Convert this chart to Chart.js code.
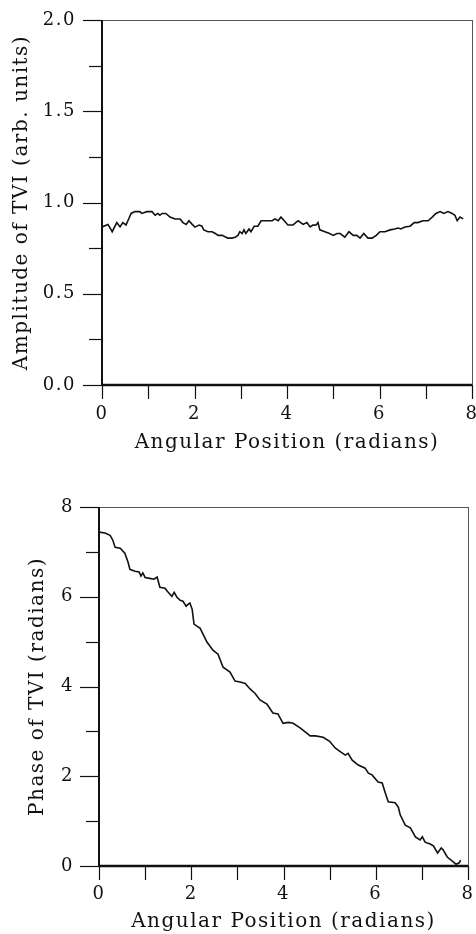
<!DOCTYPE html>
<html>
<head>
<meta charset="utf-8">
<script src="https://cdn.jsdelivr.net/npm/chart.js@4/dist/chart.umd.min.js"></script>
<style>
  html, body { margin: 0; padding: 0; background: #fff; }
  #wrap { position: relative; width: 476px; height: 934px; }
  canvas { position: absolute; left: 0; }
</style>
</head>
<body>
<div id="wrap">
  <canvas id="amp" width="476" height="460" style="top:0"></canvas>
  <canvas id="phase" width="476" height="474" style="top:460px"></canvas>
</div>
<script>
// amplitude of TVI vs angular position
const ampX = [0.00,0.13,0.22,0.32,0.39,0.45,0.52,0.56,0.63,0.71,0.82,0.86,0.97,1.08,1.15,1.21,1.25,1.30,1.38,1.47,
  1.58,1.69,1.75,1.82,1.88,1.95,2.01,2.10,2.16,2.20,2.29,2.38,2.45,2.51,2.60,2.68,2.72,2.81,2.88,2.94,
  2.98,3.03,3.07,3.11,3.18,3.22,3.29,3.37,3.44,3.52,3.68,3.74,3.81,3.87,3.94,4.02,4.13,4.24,4.35,4.43,
  4.50,4.56,4.63,4.67,4.71,4.82,4.92,5.00,5.08,5.15,5.25,5.34,5.43,5.51,5.58,5.66,5.75,5.84,5.93,6.01,
  6.12,6.23,6.33,6.40,6.46,6.55,6.66,6.75,6.83,6.94,7.05,7.14,7.22,7.31,7.39,7.48,7.57,7.63,7.68,7.74,7.81];
const ampY = [0.866,0.88,0.84,0.89,0.866,0.89,0.877,0.90,0.94,0.95,0.95,0.94,0.95,0.95,0.93,0.94,0.93,0.94,0.94,0.92,
  0.91,0.91,0.89,0.88,0.90,0.88,0.865,0.876,0.87,0.85,0.84,0.84,0.83,0.82,0.82,0.81,0.805,0.805,0.81,0.82,
  0.84,0.83,0.85,0.83,0.855,0.84,0.87,0.87,0.90,0.90,0.90,0.91,0.90,0.92,0.90,0.877,0.877,0.90,0.88,0.89,
  0.866,0.876,0.877,0.89,0.85,0.84,0.83,0.82,0.83,0.83,0.81,0.84,0.82,0.82,0.805,0.83,0.805,0.805,0.82,0.84,
  0.84,0.85,0.855,0.86,0.855,0.866,0.87,0.89,0.89,0.90,0.90,0.92,0.94,0.95,0.94,0.95,0.94,0.93,0.90,0.92,0.91];

// phase of TVI vs angular position
const phaseX = [0.00,0.13,0.24,0.30,0.35,0.46,0.56,0.63,0.67,0.78,0.87,0.91,0.95,1.00,1.10,1.19,1.26,1.32,1.43,1.50,
  1.58,1.63,1.69,1.76,1.82,1.89,1.93,1.97,2.02,2.06,2.13,2.19,2.34,2.47,2.58,2.69,2.84,2.95,3.06,3.17,
  3.28,3.38,3.49,3.64,3.77,3.88,3.99,4.10,4.21,4.36,4.58,4.69,4.86,5.00,5.12,5.23,5.34,5.40,5.49,5.62,
  5.77,5.84,5.92,6.05,6.14,6.20,6.27,6.42,6.49,6.53,6.64,6.75,6.86,6.96,7.01,7.07,7.18,7.25,7.34,7.42,
  7.46,7.55,7.68,7.74,7.81,7.84];
const phaseY = [7.44,7.42,7.37,7.26,7.10,7.08,6.97,6.77,6.61,6.57,6.55,6.46,6.53,6.43,6.41,6.39,6.44,6.21,6.19,6.10,
  6.01,6.10,5.99,5.92,5.90,5.79,5.83,5.86,5.72,5.39,5.34,5.30,4.99,4.81,4.72,4.43,4.32,4.12,4.10,4.07,
  3.94,3.85,3.70,3.61,3.41,3.39,3.18,3.20,3.18,3.08,2.90,2.90,2.87,2.78,2.63,2.55,2.47,2.51,2.36,2.25,
  2.18,2.07,2.03,1.87,1.85,1.65,1.43,1.41,1.31,1.14,0.91,0.85,0.65,0.58,0.65,0.53,0.49,0.45,0.29,0.40,
  0.36,0.20,0.09,0.04,0.07,0.13];

Chart.defaults.font.family = "'DejaVu Serif', 'Liberation Serif', serif";
Chart.defaults.font.size = 18;
Chart.defaults.color = '#111';

// old typeset plots have wide, spaced lettering
const spacing = {
  id: 'spacing',
  beforeDraw(chart) { chart.ctx.letterSpacing = '1.5px'; }
};

// box, axes and tick marks drawn like the old plot
const frame = {
  id: 'frame',
  afterDraw(chart, args, opts) {
    const {ctx, chartArea: a, scales: {x, y}} = chart;
    ctx.save();
    ctx.strokeStyle = '#555';
    ctx.lineWidth = 1;
    ctx.beginPath();
    ctx.moveTo(a.left, a.top + 0.5); ctx.lineTo(a.right, a.top + 0.5);
    ctx.moveTo(a.right + 0.5, a.top); ctx.lineTo(a.right + 0.5, a.bottom);
    ctx.stroke();
    ctx.strokeStyle = '#111';
    ctx.lineWidth = 1.2;
    y.ticks.forEach(t => {
      const py = Math.round(y.getPixelForValue(t.value)) + 0.5;
      const len = t.label !== '' ? opts.yMajor : opts.yMinor;
      ctx.beginPath(); ctx.moveTo(a.left - len, py); ctx.lineTo(a.left, py); ctx.stroke();
    });
    x.ticks.forEach(t => {
      const px = Math.round(x.getPixelForValue(t.value)) + 0.5;
      ctx.beginPath(); ctx.moveTo(px, a.bottom); ctx.lineTo(px, a.bottom + opts.xLen); ctx.stroke();
    });
    ctx.lineWidth = 2;
    ctx.beginPath();
    ctx.moveTo(a.left, a.top); ctx.lineTo(a.left, a.bottom);
    ctx.stroke();
    ctx.lineWidth = 2.5;
    ctx.beginPath();
    ctx.moveTo(a.left, a.bottom); ctx.lineTo(a.right, a.bottom);
    ctx.stroke();
    ctx.restore();
  }
};

function makeChart(id, xs, ys, o) {
  const pts = xs.map((v, i) => ({x: v, y: ys[i]}));
  return new Chart(document.getElementById(id), {
    type: 'line',
    data: {
      datasets: [{
        data: pts,
        borderColor: '#111',
        borderWidth: 1.6,
        pointRadius: 0,
        tension: 0,
        fill: false
      }]
    },
    plugins: [spacing, frame],
    options: {
      responsive: false,
      animation: false,
      layout: {padding: {top: o.top, right: o.right, left: 0, bottom: 0}},
      plugins: {
        legend: {display: false},
        tooltip: {enabled: false},
        frame: {yMajor: 19, yMinor: 13, xLen: 14}
      },
      scales: {
        x: {
          type: 'linear',
          min: 0, max: 8,
          grid: {display: false, drawTicks: false},
          border: {display: false},
          ticks: {
            stepSize: 1, autoSkip: false, maxRotation: 0, padding: o.xPad,
            callback: v => (v % 2 === 0 ? String(v) : '')
          },
          title: {display: true, text: 'Angular Position (radians)', font: {size: 20},
                  padding: {top: 0, bottom: o.xTitlePad}},
          afterFit: s => { s.height = o.xHeight; s.paddingLeft = 0; s.paddingRight = 0; }
        },
        y: {
          min: 0, max: o.yMax,
          grid: {display: false, drawTicks: false},
          border: {display: false},
          ticks: {
            stepSize: o.yStep, autoSkip: false, padding: o.yPad,
            callback: o.yLabel
          },
          title: {display: true, text: o.yTitle, font: {size: 20},
                  padding: {top: o.yTitlePad, bottom: 0}},
          afterFit: s => { s.width = o.yWidth; s.paddingTop = 0; s.paddingBottom = 0; }
        }
      }
    }
  });
}

makeChart('amp', ampX, ampY, {
  top: 20, right: 4, xHeight: 75, yWidth: 102,
  xPad: 19, xTitlePad: 5, yPad: 26, yTitlePad: 10,
  yMax: 2, yStep: 0.25,
  yLabel: v => (Math.abs(v * 2 - Math.round(v * 2)) < 1e-6 ? v.toFixed(1) : ''),
  yTitle: 'Amplitude of TVI (arb. units)'
});

makeChart('phase', phaseX, phaseY, {
  top: 47, right: 8, xHeight: 68, yWidth: 99,
  xPad: 18, xTitlePad: 0, yPad: 25, yTitlePad: 26,
  yMax: 8, yStep: 1,
  yLabel: v => (v % 2 === 0 ? String(v) : ''),
  yTitle: 'Phase of TVI (radians)'
});
</script>
</body>
</html>
